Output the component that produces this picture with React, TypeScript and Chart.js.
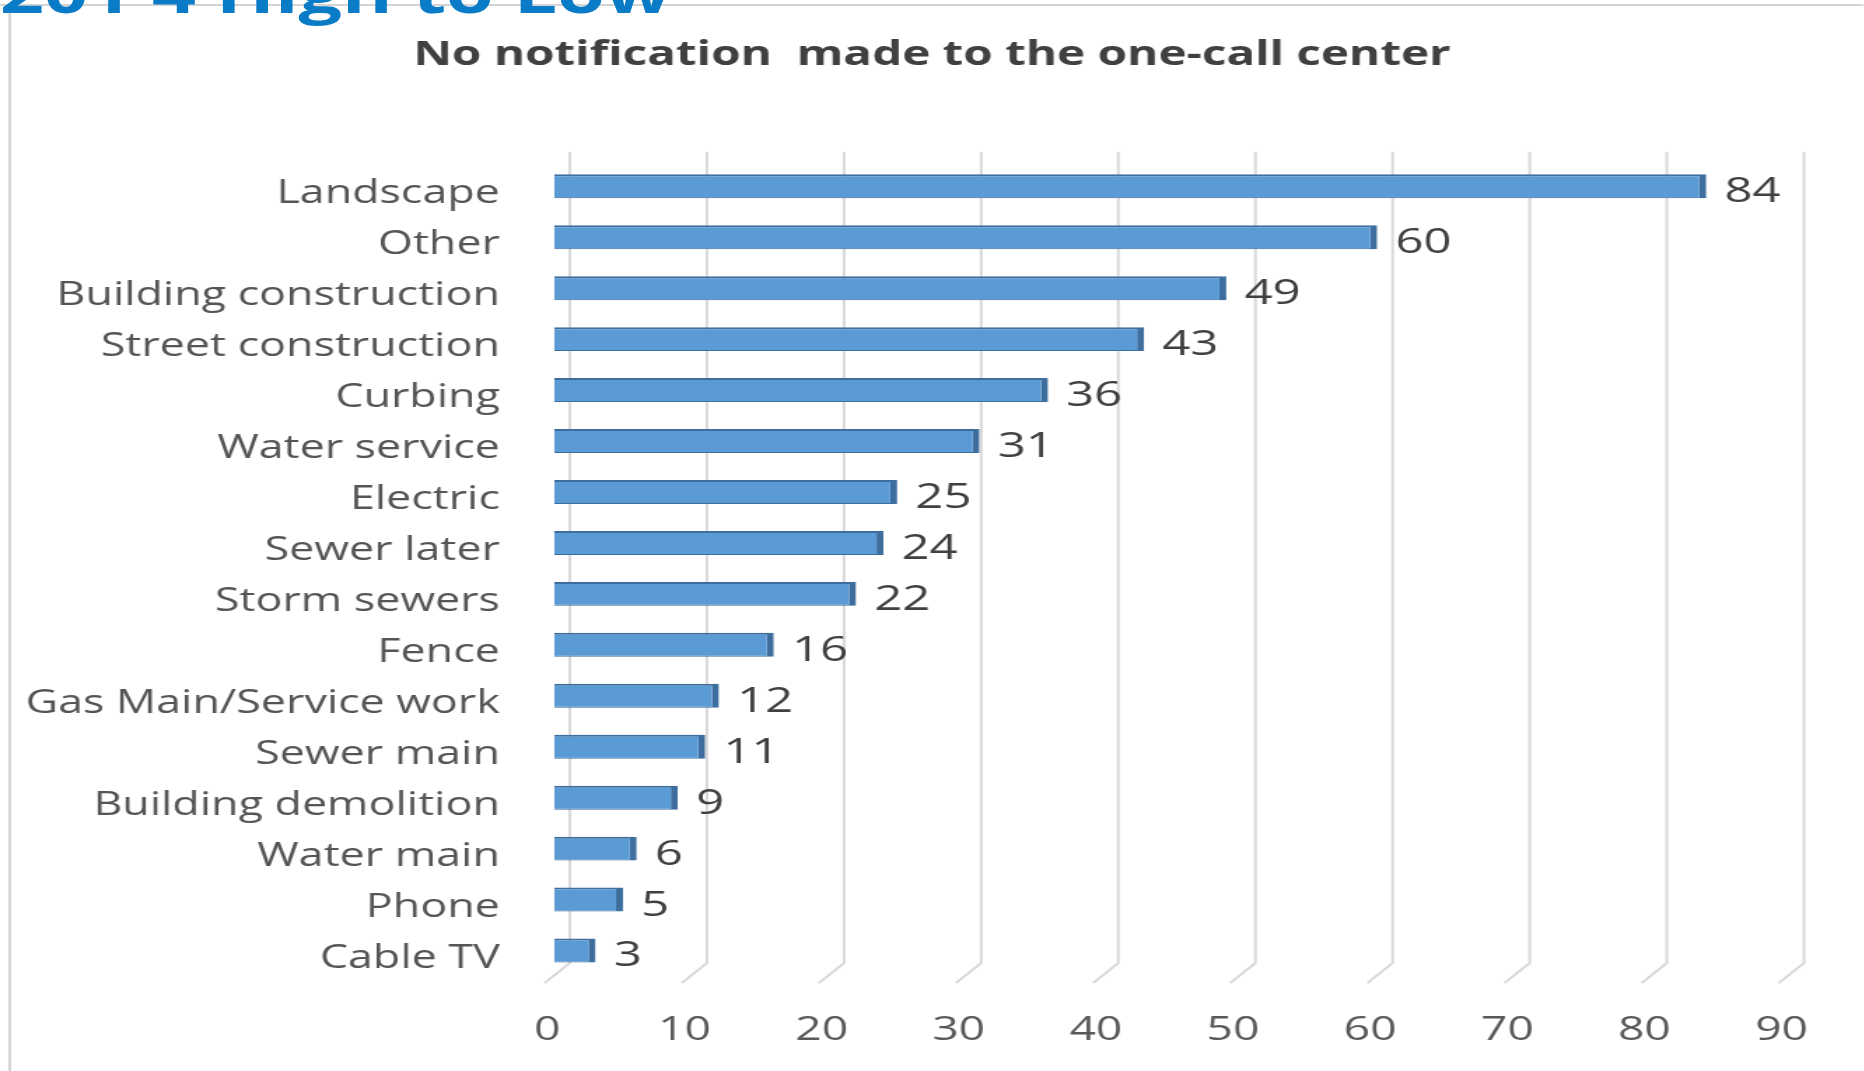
import React, { useEffect, useRef } from "react";
import { Chart, registerables } from "chart.js";

Chart.register(...registerables);

const categories = [
  "Landscape",
  "Other",
  "Building construction",
  "Street construction",
  "Curbing",
  "Water service",
  "Electric",
  "Sewer later",
  "Storm sewers",
  "Fence",
  "Gas Main/Service work",
  "Sewer main",
  "Building demolition",
  "Water main",
  "Phone",
  "Cable TV",
];
const values = [84, 60, 49, 43, 36, 31, 25, 24, 22, 16, 12, 11, 9, 6, 5, 3];
const xTicks = [0, 10, 20, 30, 40, 50, 60, 70, 80, 90];
const chartTitle = "No notification  made to the one-call center";
const pageHeading = "201 4 High to Low";

const STRETCH = 1.4;
const W = 1864;
const H = 1071;
const IW = W / STRETCH;

const backGrid = {
  id: "backGrid",
  beforeDatasetsDraw(chart: any) {
    const { ctx, chartArea, scales } = chart;
    const x = scales.x;
    ctx.save();
    ctx.strokeStyle = "#d9d9d9";
    ctx.lineWidth = 2;
    for (const v of xTicks) {
      const px = x.getPixelForValue(v) + 11;
      ctx.beginPath();
      ctx.moveTo(px, chartArea.top - 9);
      ctx.lineTo(px, chartArea.bottom - 13);
      ctx.lineTo(px - 18, chartArea.bottom + 7);
      ctx.stroke();
    }
    ctx.restore();
  },
};

const valueLabels = {
  id: "valueLabels",
  afterDatasetsDraw(chart: any) {
    const { ctx } = chart;
    const meta = chart.getDatasetMeta(0);
    ctx.save();
    ctx.font = '35px "Open Sans"';
    ctx.fillStyle = "#404040";
    ctx.textAlign = "left";
    ctx.textBaseline = "middle";
    meta.data.forEach((bar: any, i: number) => {
      ctx.fillText(String(values[i]), bar.x + 13, bar.y + 6);
    });
    ctx.restore();
  },
};

export default function App() {
  const canvasRef = useRef<HTMLCanvasElement | null>(null);

  useEffect(() => {
    if (!canvasRef.current) return;
    const chart = new Chart(canvasRef.current, {
      type: "bar",
      data: {
        labels: categories,
        datasets: [
          {
            data: values,
            backgroundColor: "#5b9bd5",
            borderColor: "#3d6e9e",
            borderWidth: { top: 2, right: 5, bottom: 1, left: 0 },
            borderSkipped: "start",
            barPercentage: 0.47,
            categoryPercentage: 1,
          },
        ],
      },
      options: {
        indexAxis: "y",
        responsive: true,
        maintainAspectRatio: false,
        animation: false,
        layout: { padding: { left: 0, right: 0, top: 0, bottom: 0 } },
        plugins: {
          legend: { display: false },
          tooltip: { enabled: false },
          title: {
            display: true,
            text: chartTitle,
            color: "#404040",
            font: { family: "Open Sans", size: 34, weight: "bold" },
            padding: { top: 35, bottom: 85 },
          },
        },
        scales: {
          x: {
            type: "linear",
            min: 0,
            max: 90,
            position: "bottom",
            afterBuildTicks: (s: any) => {
              s.ticks = xTicks.map((v) => ({ value: v }));
            },
            afterFit: (s: any) => {
              s.height = 95;
            },
            ticks: {
              color: "#595959",
              font: { family: "Open Sans", size: 33 },
              padding: 35,
              labelOffset: -5,
              maxRotation: 0,
              autoSkip: false,
            },
            grid: { display: false, drawTicks: false },
            border: { display: false },
          },
          y: {
            position: "left",
            afterFit: (s: any) => {
              s.width = 396;
            },
            ticks: {
              color: "#555555",
              font: { family: "Open Sans", size: 32 },
              padding: 39,
              labelOffset: 8,
              autoSkip: false,
            },
            grid: { display: false, drawTicks: false },
            border: { display: false },
          },
          yRight: {
            type: "category",
            axis: "y",
            position: "right",
            afterFit: (s: any) => {
              s.width = 50;
            },
            ticks: { display: false },
            grid: { display: false, drawTicks: false },
            border: { display: false },
          },
        },
      },
      plugins: [backGrid, valueLabels],
    } as any);
    return () => chart.destroy();
  }, []);

  return (
    <div
      style={{
        position: "fixed",
        left: 0,
        top: 0,
        width: W,
        height: H,
        overflow: "hidden",
        background: "#ffffff",
      }}
    >
      <div
        style={{
          position: "absolute",
          left: 0,
          top: 0,
          width: IW,
          height: H,
          transform: `scaleX(${STRETCH})`,
          transformOrigin: "0 0",
        }}
      >
        <div style={{ position: "absolute", left: 0, top: 4, width: IW, height: 2, background: "#d4d4d4" }} />
        <div style={{ position: "absolute", left: 6, top: 4, width: 2, height: H, background: "#d4d4d4" }} />
        <div style={{ position: "absolute", left: 0, top: 0, width: IW, height: H }}>
          <canvas ref={canvasRef} />
        </div>
        <div
          style={{
            position: "absolute",
            left: 0,
            top: -36,
            font: '700 55px "Open Sans"',
            lineHeight: 1,
            color: "#0a7bc6",
            whiteSpace: "nowrap",
          }}
        >
          {pageHeading}
        </div>
      </div>
    </div>
  );
}
